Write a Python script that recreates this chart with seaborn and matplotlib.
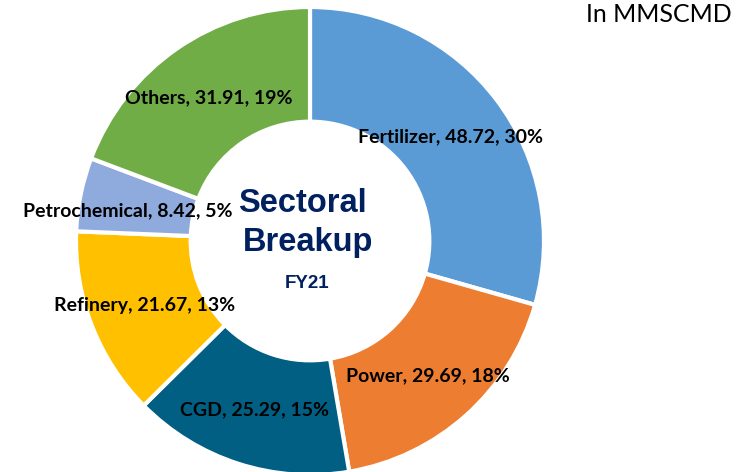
import seaborn as sns
import matplotlib.pyplot as plt

sectors = ['Fertilizer', 'Power', 'CGD', 'Refinery', 'Petrochemical', 'Others']
volumes = [48.72, 29.69, 25.29, 21.67, 8.42, 31.91]
shares = [30, 18, 15, 13, 5, 19]
colors = ['#5B9BD5', '#ED7D31', '#005F83', '#FFC000', '#8FAADC', '#70AD47']

# label centres in pixel coords (y from top)
label_pos = [(450, 137), (428, 376), (255, 410), (145, 305), (128, 211), (209, 98)]

sns.set_theme(style="white")
plt.rcParams['font.family'] = ['Lato', 'DejaVu Sans']

W, H = 751, 472
fig = plt.figure(figsize=(W / 100, H / 100), dpi=100)
ax = fig.add_axes([0, 0, 1, 1])

cx, cy, r = 310, 241, 234
ax.pie(volumes, colors=colors, startangle=90, counterclock=False,
       center=(cx, H - cy), radius=r,
       wedgeprops=dict(width=r * 0.49, edgecolor='white', linewidth=3))
ax.set_xlim(0, W)
ax.set_ylim(0, H)
ax.set_aspect('equal')
ax.axis('off')

for name, v, p, (x, y) in zip(sectors, volumes, shares, label_pos):
    ax.text(x, H - y, f'{name}, {v}, {p}%', ha='center', va='center',
            fontsize=14, fontweight='bold', color='black')

ax.text(302, H - 203, 'Sectoral', ha='center', va='center', fontsize=23.5,
        fontweight='bold', color='#002060', family='Liberation Sans')
ax.text(308, H - 243, 'Breakup', ha='center', va='center', fontsize=23.5,
        fontweight='bold', color='#002060', family='Liberation Sans')
ax.text(307, H - 283, 'FY21', ha='center', va='center', fontsize=13.5,
        fontweight='bold', color='#002060', family='Liberation Sans')

ax.text(659, H - 14, 'In MMSCMD', ha='center', va='center', fontsize=18,
        color='black')

fig.savefig('out.png', dpi=100)
